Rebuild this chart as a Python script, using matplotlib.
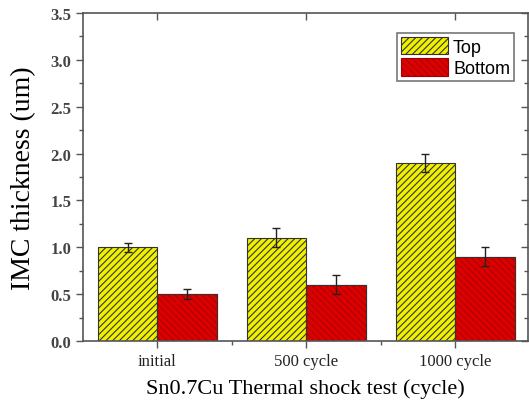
import matplotlib
matplotlib.use("Agg")
import matplotlib.pyplot as plt
from matplotlib.ticker import MultipleLocator, FixedLocator
import numpy as np

categories = ["initial", "500 cycle", "1000 cycle"]
top_vals = [1.0, 1.1, 1.9]
top_err = [0.05, 0.1, 0.1]
bottom_vals = [0.5, 0.6, 0.9]
bottom_err = [0.05, 0.1, 0.1]

plt.rcParams['hatch.linewidth'] = 0.8
fig = plt.figure(figsize=(5.29, 4.10), dpi=100)
ax = fig.add_axes([0.157, 0.166, 0.841, 0.800])

x = np.arange(len(categories))
w = 0.4
plt.rcParams['hatch.color'] = 'black'
b1 = ax.bar(x - w/2, top_vals, w, color='#f0f000', edgecolor='#333333', hatch='/////', linewidth=0.8, label='Top')
ax.errorbar(x - w/2, top_vals, yerr=top_err, fmt='none', ecolor='#222222', elinewidth=1, capsize=3, capthick=1)
b2 = ax.bar(x + w/2, bottom_vals, w, color='#dd0000', edgecolor='#333333', hatch='\\\\\\\\\\', linewidth=0.8, label='Bottom')
for p in b2:
    p.set_edgecolor('#a00000')
    p._hatch_color = (0.68, 0.0, 0.0, 1.0)
ax.bar(x + w/2, bottom_vals, w, fill=False, edgecolor='#333333', linewidth=0.8)
ax.errorbar(x + w/2, bottom_vals, yerr=bottom_err, fmt='none', ecolor='#222222', elinewidth=1, capsize=3, capthick=1)

ax.set_xlim(-0.5, 2.49)
ax.set_ylim(0, 3.5)
ax.set_xticks(x)
ax.set_xticklabels(categories)
ax.xaxis.set_minor_locator(FixedLocator([0.5, 1.5]))
ax.yaxis.set_major_locator(MultipleLocator(0.5))
ax.yaxis.set_minor_locator(MultipleLocator(0.25))
ax.yaxis.set_major_formatter(matplotlib.ticker.FormatStrFormatter('%.1f'))

for s in ax.spines.values():
    s.set_color('#555555')
    s.set_linewidth(1.2)
ax.tick_params(axis='y', which='major', direction='out', length=5, width=1, color='#555555')
ax.tick_params(axis='y', which='minor', direction='out', length=3, width=1, color='#555555')
ax.tick_params(axis='x', which='major', direction='out', length=5, width=1, color='#555555')
ax.tick_params(axis='x', which='minor', direction='out', length=3, width=1, color='#555555')

# mirrored inward ticks on top and right
sec_x = ax.secondary_xaxis('top')
sec_x.set_xticks(x)
sec_x.set_xticklabels([])
sec_x.tick_params(direction='in', length=5, width=1, color='#555555')
sec_x.spines['top'].set_visible(False)
sec_y = ax.secondary_yaxis('right')
sec_y.yaxis.set_major_locator(MultipleLocator(0.5))
sec_y.yaxis.set_minor_locator(MultipleLocator(0.25))
sec_y.set_yticklabels([])
sec_y.tick_params(which='major', direction='in', length=5, width=1, color='#555555')
sec_y.tick_params(which='minor', direction='in', length=3, width=1, color='#555555')
sec_y.spines['right'].set_visible(False)

for lab in ax.get_yticklabels():
    lab.set_fontfamily('Liberation Serif')
    lab.set_fontsize(12)
    lab.set_fontweight('bold')
    lab.set_color('#444444')
for lab in ax.get_xticklabels():
    lab.set_fontfamily('Liberation Serif')
    lab.set_fontsize(12)
    lab.set_color('#222222')

ax.set_ylabel('IMC thickness (um)', fontfamily='Liberation Serif', fontsize=20, labelpad=10)
ax.set_xlabel('Sn0.7Cu Thermal shock test (cycle)', fontfamily='Liberation Serif', fontsize=16, labelpad=7)

leg = ax.legend(handles=[b1, b2], loc='upper right', bbox_to_anchor=(0.968, 0.938),
                prop={'family': 'Liberation Sans', 'size': 13}, frameon=True, fancybox=False,
                handlelength=2.6, handleheight=1.1, borderpad=0.2, labelspacing=0.15, handletextpad=0.3,
                borderaxespad=0)
leg.get_frame().set_edgecolor('#555555')
leg.get_frame().set_linewidth(1.2)

fig.savefig('out.png', dpi=100)
